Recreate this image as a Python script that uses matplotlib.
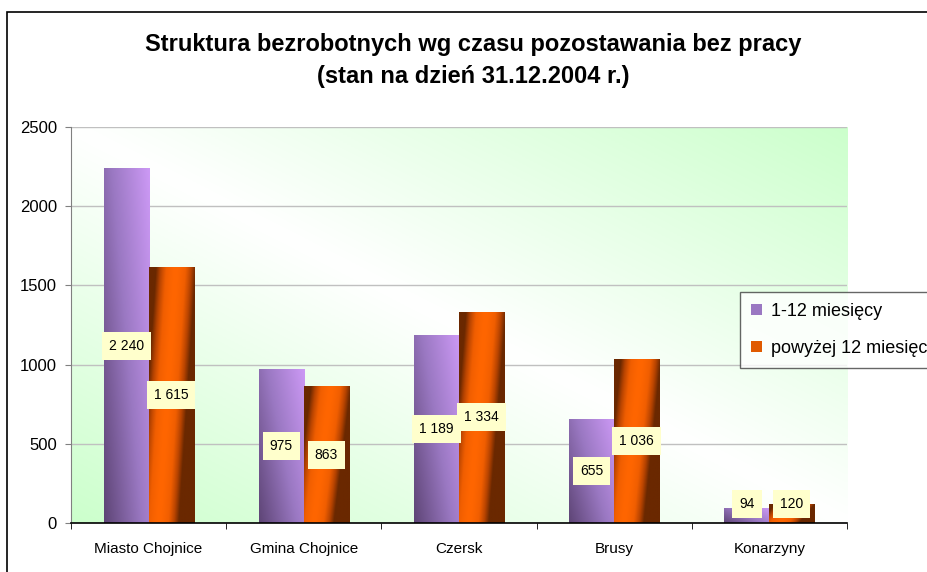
import matplotlib.pyplot as plt
import numpy as np
from matplotlib.patches import Rectangle
from matplotlib.colors import LinearSegmentedColormap

plt.rcParams['font.family'] = ['Liberation Sans', 'DejaVu Sans']

# Dane
gminy = ['Miasto Chojnice', 'Gmina Chojnice', 'Czersk', 'Brusy', 'Konarzyny']
krotko = [2240, 975, 1189, 655, 94]
dlugo = [1615, 863, 1334, 1036, 120]
etykiety_krotko = ['2 240', '975', '1 189', '655', '94']
etykiety_dlugo = ['1 615', '863', '1 334', '1 036', '120']
seria = ['1-12 miesięcy', 'powyżej 12 miesięcy']

fig = plt.figure(figsize=(9.27, 5.72), dpi=100)
ax = fig.add_axes([71/927, 1 - 523/572, 776/927, 396/572])

# ramka wykresu
fig.patches.append(Rectangle((7/927, -0.1), 1.0, 1.1 - 12/572, transform=fig.transFigure,
                             fill=False, edgecolor='black', linewidth=1.2, clip_on=False))

# tło obszaru wykresu - gradient
uu, vv = np.meshgrid(np.linspace(0, 1, 200), np.linspace(0, 1, 200))
g = np.abs(uu + vv - 1)
bg_cmap = LinearSegmentedColormap.from_list('bg', ['#ffffff', '#ccffcc'])
x = np.arange(len(gminy))
ax.imshow(g, cmap=bg_cmap, extent=[-0.5, len(gminy) - 0.5, 0, 2500], origin='lower',
          aspect='auto', zorder=0, vmin=0, vmax=1)

szer = 0.29
purple_cmap = LinearSegmentedColormap.from_list('p', ['#5e4576', '#9a78c2', '#cc99f5'])
orange_cmap = LinearSegmentedColormap.from_list('o', ['#ff6600', '#f05e00', '#b84400', '#6a2800'])


def slupki(pozycje, wartosci, cmap, tryb):
    bars = ax.bar(pozycje, wartosci, szer, color='none', edgecolor='none', zorder=2)
    for b in bars:
        x0, w, h = b.get_x(), b.get_width(), b.get_height()
        u, v = np.meshgrid(np.linspace(0, 1, 60), np.linspace(0, 1, 120))
        if tryb == 'p':
            val = 0.6 * u + 0.4 * v
        else:
            val = np.clip(np.abs((u - 0.4) * 1.6 - (v - 0.5) * 0.6) ** 1.5 * 1.7, 0, 1)
        im = ax.imshow(val, cmap=cmap, extent=[x0, x0 + w, 0, h], origin='lower',
                       aspect='auto', zorder=2, vmin=0, vmax=1)
        im.set_clip_path(b)
    return bars


slupki(x - szer / 2, krotko, purple_cmap, 'p')
slupki(x + szer / 2, dlugo, orange_cmap, 'o')

for i in range(len(gminy)):
    for dx, v, t in [(-szer / 2, krotko[i], etykiety_krotko[i]), (szer / 2, dlugo[i], etykiety_dlugo[i])]:
        ax.text(x[i] + dx, max(v / 2, 120), t, ha='center', va='center', fontsize=10, zorder=4,
                bbox=dict(boxstyle='square,pad=0.5', facecolor='#ffffcc', edgecolor='none'))

ax.set_xlim(-0.5, len(gminy) - 0.5)
ax.set_ylim(0, 2500)
ax.set_yticks(np.arange(0, 2501, 500))
ax.grid(axis='y', color='#c0c0c0', linewidth=1, zorder=1)
ax.set_axisbelow(True)
ax.set_xticks(x)
ax.set_xticklabels(gminy, fontsize=11)
ax.tick_params(axis='x', length=0, pad=14)
ax.tick_params(axis='y', labelsize=12, length=4, color='#808080', pad=6)
ax.set_xticks(np.arange(-0.5, len(gminy), 1), minor=True)
ax.tick_params(axis='x', which='minor', length=4, color='black')
for s in ['top', 'right']:
    ax.spines[s].set_visible(False)
ax.spines['left'].set_color('#808080')
ax.spines['bottom'].set_color('black')
ax.spines['bottom'].set_linewidth(1.2)

fig.text(473/927, 1 - 45/572, 'Struktura bezrobotnych wg czasu pozostawania bez pracy',
         ha='center', va='center', fontsize=17, fontweight='bold')
fig.text(473/927, 1 - 77/572, '(stan na dzień 31.12.2004 r.)',
         ha='center', va='center', fontsize=17, fontweight='bold')

h1 = Rectangle((0, 0), 1, 1, facecolor='#9a78c2')
h2 = Rectangle((0, 0), 1, 1, facecolor='#e05a00')
leg = fig.legend([h1, h2], seria, loc='upper left', bbox_to_anchor=(740/927, 1 - 292/572),
                 fontsize=13, frameon=True, fancybox=False, edgecolor='#404040',
                 handlelength=0.6, handleheight=0.6, labelspacing=1.1, borderpad=0.6,
                 handletextpad=0.5, borderaxespad=0)
leg.get_frame().set_linewidth(1)

fig.savefig('out.png', dpi=100)
